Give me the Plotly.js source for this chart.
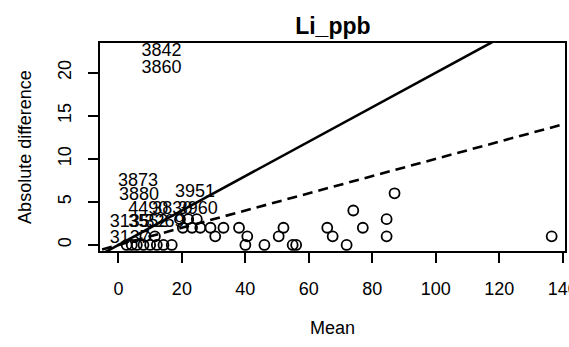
<!DOCTYPE html>
<html>
<head>
<meta charset="utf-8">
<script src="https://cdn.plot.ly/plotly-3.0.1.min.js"></script>
<style>html,body{margin:0;padding:0;background:#fff;overflow:hidden;}#chart{width:569px;height:347px;}</style>
</head>
<body>
<div id="chart"></div>
<script>
// Points (mean, absolute difference)
const ptMean = [2.6, 4.2, 5.8, 7.9, 10, 12.1, 14.2, 16.8, 40.0, 46.0, 54.9, 56.0, 71.9,
                8.5, 11.5, 30.5, 40.6, 50.5, 67.5, 84.5, 136.5,
                20.3, 23.2, 25.8, 29.0, 33.1, 38.0, 52.0, 65.8, 77.0,
                19.4, 22.0, 24.7, 84.5,
                74.0, 87.0];
const ptDiff = [0, 0, 0, 0, 0, 0, 0, 0, 0, 0, 0, 0, 0,
                1, 1, 1, 1, 1, 1, 1, 1,
                2, 2, 2, 2, 2, 2, 2, 2, 2,
                3, 3, 3, 3,
                4, 6];
// Labelled samples
const labelText = ["3842", "3860", "3873", "3880", "3951", "4490", "3830", "3960", "3135", "3552", "3269", "3137"];
const labelMean = [13.6, 13.6, 6.2, 6.5, 24.1, 9.4, 17.0, 25.0, 3.6, 9.4, 14.5, 3.6];
const labelDiff = [22.5, 20.5, 7.4, 5.7, 6.1, 4.1, 4.1, 4.1, 2.6, 2.6, 2.6, 0.7];
// Reference lines y = slope * x
const refSlopes = [0.2, 0.1];
const refDash = ["solid", "10px,6px"];
const refX = [-10, 150];

const font = "Liberation Sans, Arial, Helvetica, sans-serif";

const traces = [];
refSlopes.forEach((s, i) => {
  traces.push({
    x: refX, y: refX.map(v => v * s), mode: "lines", type: "scatter",
    line: {color: "#000", width: 2.6, dash: refDash[i]}, hoverinfo: "skip", cliponaxis: true
  });
});
traces.push({
  x: ptMean, y: ptDiff, mode: "markers", type: "scatter",
  marker: {symbol: "circle-open", size: 10, color: "#000", line: {color: "#000", width: 1.8}}
});
traces.push({
  x: labelMean, y: labelDiff, text: labelText, mode: "text", type: "scatter",
  textposition: "middle center", textfont: {family: font, size: 18, color: "#000"}
});

const layout = {
  width: 569, height: 347,
  margin: {l: 100, r: 4, t: 43, b: 96},
  paper_bgcolor: "#fff", plot_bgcolor: "#fff",
  showlegend: false,
  font: {family: font, size: 18, color: "#000"},
  title: {text: "<b>Li_ppb</b>", font: {family: font, size: 23, color: "#000"}, x: 0.585, xanchor: "center", y: 0.925, yanchor: "middle"},
  xaxis: {
    range: [-5.8, 140.7], tickvals: [0, 20, 40, 60, 80, 100, 120, 140],
    showgrid: false, zeroline: false, showline: true, mirror: true,
    linecolor: "#000", linewidth: 2, ticks: "outside", ticklen: 10, tickwidth: 2, tickcolor: "#000",
    tickfont: {family: font, size: 18, color: "#000"}, ticklabelstandoff: 10, ticklabeloverflow: "allow",
    title: {text: "Mean", font: {family: font, size: 18, color: "#000"}, standoff: 24}
  },
  yaxis: {
    range: [-0.7, 23.45], tickvals: [0, 5, 10, 15, 20], tickangle: -90,
    showgrid: false, zeroline: false, showline: true, mirror: true,
    linecolor: "#000", linewidth: 2, ticks: "outside", ticklen: 10, tickwidth: 2, tickcolor: "#000",
    tickfont: {family: font, size: 18, color: "#000"}, ticklabelstandoff: 10,
    title: {text: "Absolute difference", font: {family: font, size: 18, color: "#000"}, standoff: 18}
  }
};

Plotly.newPlot("chart", traces, layout, {displayModeBar: false, staticPlot: true});
</script>
</body>
</html>
